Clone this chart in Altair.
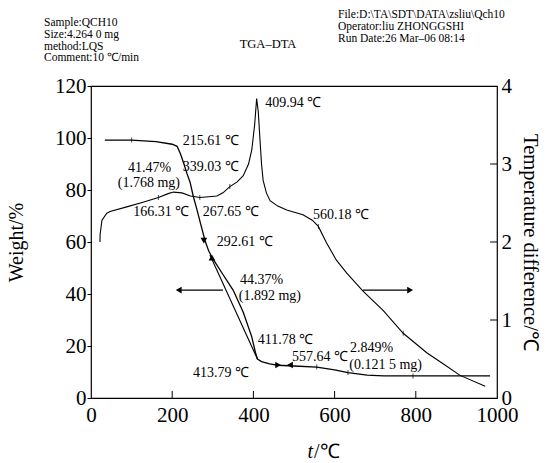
import altair as alt
import pandas as pd

FONT = "Liberation Serif"

# ---------------- data ----------------
# TGA curve (left axis, weight %)
tga_t = [34, 100, 160, 200, 212, 220, 228, 236, 244, 252, 260, 270, 281, 290, 300,
         325, 350, 375, 396, 405, 410, 420, 440, 460, 500, 556, 600, 633, 680, 720, 800, 983]
tga_w = [99.2, 99.2, 98.6, 97.6, 96.8, 94, 90.5, 86.5, 83, 77.5, 73, 67, 60.5, 56.5, 53.6,
         47.5, 41.5, 33, 23.5, 17.5, 15, 14, 13.1, 12.6, 12.3, 11.9, 10.8, 9.8, 8.8, 8.5, 8.5, 8.5]

# step chord line on the TGA drop
chord_t = [293, 410]
chord_w = [55, 15]

# DTA curve (right axis, temperature difference)
dta_t = [22, 22.5, 27, 39, 47, 88, 128, 166, 190, 203, 224, 245, 268, 290, 310, 325, 342, 360,
         375, 388, 396, 403, 408, 412, 416, 420, 424, 432, 441, 460, 482, 522, 545, 560, 580,
         604, 630, 670, 720, 769, 827, 870, 909, 971]
dta_d = [2.0, 2.1, 2.28, 2.37, 2.39, 2.45, 2.51, 2.57, 2.62, 2.64, 2.63, 2.59, 2.57, 2.58, 2.59,
         2.63, 2.71, 2.77, 2.85, 3.0, 3.18, 3.5, 3.84, 3.67, 3.33, 3.0, 2.79, 2.63, 2.53, 2.46,
         2.41, 2.35, 2.28, 2.2, 1.99, 1.77, 1.6, 1.37, 1.12, 0.83, 0.58, 0.43, 0.29, 0.15]

# small markers
tga_mark_t = [100, 556, 633, 793]
tga_mark_w = [99.2, 11.9, 9.8, 8.5]
dta_mark_t = [166, 268, 342, 560, 769]
dta_mark_d = [2.57, 2.57, 2.71, 2.2, 0.83]

# arrow heads on the TGA curve and on the horizontal arrows
head_t = [278, 298, 461, 490, 216, 786]
head_w = [60.5, 54, 12.7, 12.7, 41.5, 41.5]
head_shape = ["triangle-down", "triangle-up", "triangle-right", "triangle-left",
              "triangle-left", "triangle-right"]

# horizontal arrow shafts (left-axis units)
arrow_t1 = [325, 670]
arrow_t2 = [222, 780]
arrow_w = [41.5, 41.5]

# annotations
ann_text = ["215.61 ℃", "41.47%", "(1.768 mg)", "339.03 ℃", "166.31 ℃", "267.65 ℃",
            "292.61 ℃", "409.94 ℃", "560.18 ℃", "44.37%", "(1.892 mg)", "411.78 ℃",
            "413.79 ℃", "557.64 ℃", "2.849%", "(0.121 5 mg)"]
ann_t = [226, 91, 66, 226, 104, 275, 310, 429, 547, 367, 364, 411, 251, 495, 638, 636]
ann_w = [99, 88.5, 82.7, 88.8, 71.5, 71.5, 60, 113.5, 70.4, 45.4, 39.2, 22.3, 9.6, 15.8, 19.2, 12.7]

# axis ticks
x_ticks = [0, 200, 400, 600, 800, 1000]
y_left_ticks = [0, 20, 40, 60, 80, 100, 120]
y_right_ticks = [0, 1, 2, 3, 4]

header_left = ["Sample:QCH10", "Size:4.264 0 mg", "method:LQS", "Comment:10 ℃/min"]
header_mid = "TGA–DTA"
header_right = ["File:D:\\TA\\SDT\\DATA\\zsliu\\Qch10", "Operator:liu ZHONGGSHI",
                "Run Date:26 Mar–06 08:14"]
left_title = "Weight/%"
right_title = "Temperature difference/℃"
x_title_a = "t"
x_title_b = "/℃"

# ---------------- encodings ----------------
xs = alt.Scale(domain=[0, 1000], nice=False, zero=False)
x_axis = alt.Axis(values=x_ticks, format="d", tickSize=0, labelPadding=6, grid=False,
                  domain=False, labelFontSize=21, labelColor="black", title=None,
                  labelFlush=False)
X = alt.X("t:Q", scale=xs, axis=x_axis)

yl_scale = alt.Scale(domain=[0, 120], nice=False, zero=False)
yl_axis = alt.Axis(values=y_left_ticks, tickSize=4, tickColor="black", labelPadding=1,
                   grid=False, domain=False, labelFontSize=21, labelColor="black",
                   title=left_title, titleFontSize=20, titleFontWeight="normal",
                   titleColor="black", titlePadding=28)
YL = alt.Y("w:Q", scale=yl_scale, axis=yl_axis)

yr_scale = alt.Scale(domain=[0, 4], nice=False, zero=False)
yr_axis = alt.Axis(orient="right", values=y_right_ticks, tickSize=0, labelPadding=4,
                   grid=False, domain=False, labelFontSize=21, labelColor="black",
                   title=right_title, titleFontSize=20.5, titleFontWeight="normal",
                   titleColor="black", titlePadding=8)
YR = alt.Y("d:Q", scale=yr_scale, axis=yr_axis)

# ---------------- left layers ----------------
tga_df = pd.DataFrame({"t": tga_t, "w": tga_w, "o": range(len(tga_t))})
tga = alt.Chart(tga_df).mark_line(color="black", strokeWidth=1.3).encode(x=X, y=YL, order="o:Q")

chord = alt.Chart(pd.DataFrame({"t": chord_t, "w": chord_w})).mark_line(
    color="black", strokeWidth=1.1).encode(x=X, y=YL)

tga_marks = alt.Chart(pd.DataFrame({"t": tga_mark_t, "w": tga_mark_w})).mark_tick(
    orient="vertical", color="black", size=5, thickness=1).encode(x=X, y=YL)

heads = alt.Chart(pd.DataFrame({"t": head_t, "w": head_w, "s": head_shape})).mark_point(
    filled=True, color="black", size=45, opacity=1).encode(
    x=X, y=YL, shape=alt.Shape("s:N", scale=None, legend=None))

arrows = alt.Chart(pd.DataFrame({"t": arrow_t1, "t2": arrow_t2, "w": arrow_w})).mark_rule(
    color="black", strokeWidth=1.1).encode(x=X, x2="t2:Q", y=YL)

ann = alt.Chart(pd.DataFrame({"t": ann_t, "w": ann_w, "s": ann_text})).mark_text(
    font=FONT, fontSize=14, align="left", baseline="middle", color="black").encode(
    x=X, y=YL, text="s:N")

# inward ticks for x axis and right axis (drawn in data units)
xt_df = pd.DataFrame({"t": x_ticks[1:-1], "w": [0] * 4, "w2": [2.7] * 4})
xticks = alt.Chart(xt_df).mark_rule(color="black", strokeWidth=1).encode(x=X, y=YL, y2="w2:Q")
rt_df = pd.DataFrame({"t": [983] * 3, "t2": [1000] * 3, "w": [30, 60, 90]})
rticks = alt.Chart(rt_df).mark_rule(color="black", strokeWidth=1).encode(x=X, x2="t2:Q", y=YL)

one = pd.DataFrame({"a": [0]})
hl = alt.Chart(one).mark_text(text=header_left, font=FONT, fontSize=11.5, lineHeight=11.8,
                              align="left", baseline="middle", color="black").encode(
    x=alt.value(-47), y=alt.value(-63))
hm = alt.Chart(one).mark_text(text=header_mid, font=FONT, fontSize=12.5, align="center",
                              baseline="middle", color="black").encode(
    x=alt.value(177), y=alt.value(-42))
hr = alt.Chart(one).mark_text(text=header_right, font=FONT, fontSize=11.5, lineHeight=11.8,
                              align="left", baseline="middle", color="black").encode(
    x=alt.value(247), y=alt.value(-71))
xa = alt.Chart(one).mark_text(text=x_title_a, font=FONT, fontSize=20, fontStyle="italic",
                              align="right", baseline="middle", color="black").encode(
    x=alt.value(222), y=alt.value(366))
xb = alt.Chart(one).mark_text(text=x_title_b, font=FONT, fontSize=20, align="left",
                              baseline="middle", color="black").encode(
    x=alt.value(223), y=alt.value(366))

left = alt.layer(tga, chord, tga_marks, heads, arrows, ann, xticks, rticks, hl, hm, hr, xa, xb)

# ---------------- right layer ----------------
dta_df = pd.DataFrame({"t": dta_t, "d": dta_d, "o": range(len(dta_t))})
dta = alt.Chart(dta_df).mark_line(color="black", strokeWidth=1.1).encode(x=X, y=YR, order="o:Q")
dta_marks = alt.Chart(pd.DataFrame({"t": dta_mark_t, "d": dta_mark_d})).mark_tick(
    orient="vertical", color="black", size=5, thickness=1).encode(x=X, y=YR)
right = alt.layer(dta, dta_marks)

chart = alt.layer(left, right).resolve_scale(y="independent").properties(
    width=406, height=312,
    autosize=alt.AutoSizeParams(type="none"),
    padding={"left": 91, "top": 86, "right": 55, "bottom": 65},
    background="white",
).configure_view(stroke="black", strokeWidth=1.2).configure_axis(
    labelFont=FONT, titleFont=FONT)

chart.save("out.html", embed_options={"renderer": "svg", "actions": False})
